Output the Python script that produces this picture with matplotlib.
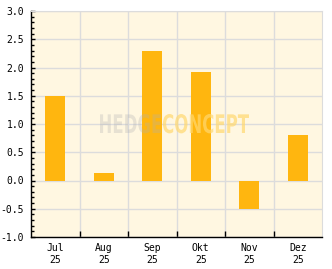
import numpy as np
import matplotlib.pyplot as plt
from matplotlib.ticker import MultipleLocator, FixedLocator
from matplotlib.textpath import TextPath
from matplotlib.patches import PathPatch
from matplotlib.font_manager import FontProperties
from matplotlib.transforms import Affine2D

months = ['Jul', 'Aug', 'Sep', 'Okt', 'Nov', 'Dez']
years = ['25', '25', '25', '25', '25', '25']
values = [1.5, 0.14, 2.3, 1.92, -0.5, 0.81]

bg = '#FFF7E1'
bar_color = '#FFB60F'
grid_color = '#DCDCDC'
mono = 'DejaVu Sans Mono'

W, H = 332, 269
fig = plt.figure(figsize=(W / 100, H / 100), dpi=100)
ax = fig.add_axes([31 / W, 32 / H, 291 / W, 226 / H])
ax.set_facecolor(bg)

x = np.arange(len(months))
ax.bar(x, values, width=0.41, color=bar_color, zorder=2)

ax.set_xlim(-0.5, len(months) - 0.5)
ax.set_ylim(-1.0, 3.0)

ax.set_xticks(x)
ax.set_xticklabels([m + '\n' + y for m, y in zip(months, years)],
                   fontfamily=mono, fontsize=7, linespacing=1.35)
ax.xaxis.set_minor_locator(FixedLocator(np.arange(0.5, len(months) - 0.5, 1)))
ax.tick_params(axis='x', which='major', length=0, pad=4)
ax.tick_params(axis='x', which='minor', length=4, width=1, direction='in', color='black')

ax.yaxis.set_major_locator(MultipleLocator(0.5))
ax.yaxis.set_minor_locator(MultipleLocator(0.1))
ax.set_yticks(np.arange(-1.0, 3.01, 0.5))
ax.set_yticklabels([f'{v:.1f}' for v in np.arange(-1.0, 3.01, 0.5)],
                   fontfamily=mono, fontsize=7)
ax.tick_params(axis='y', which='major', length=3.2, width=1, direction='in', pad=5)
ax.tick_params(axis='y', which='minor', length=2, width=1, direction='in')

ax.grid(True, axis='y', which='major', color=grid_color, lw=1, zorder=1)
ax.grid(True, axis='x', which='minor', color=grid_color, lw=1, zorder=1)
ax.set_axisbelow(True)

for s in ['top', 'right']:
    ax.spines[s].set_color(grid_color)
for s in ['left', 'bottom']:
    ax.spines[s].set_color('black')
    ax.spines[s].set_linewidth(1)

# watermark, stretched to fit its box (pixels, origin bottom-left)
fp = FontProperties(family='DejaVu Sans', weight='bold')
p1 = TextPath((0, 0), 'HEDGE', size=10, prop=fp)
e1 = p1.get_extents()
p2 = TextPath((e1.x1 + 0.6, 0), 'CONCEPT', size=10, prop=fp)
e2 = p2.get_extents()
x0, y0, ww, hh = 100, 136, 149, 19
sx = ww / (e2.x1 - e1.x0)
sy = hh / max(e1.y1, e2.y1)
tr = Affine2D().translate(-e1.x0, 0).scale(sx / W, sy / H).translate(x0 / W, y0 / H) + fig.transFigure
fig.add_artist(PathPatch(p1, transform=tr, facecolor='#B0B0B0', edgecolor='none', alpha=0.3, zorder=5))
fig.add_artist(PathPatch(p2, transform=tr, facecolor='#FFD870', edgecolor='none', alpha=0.7, zorder=5))

fig.savefig('out.png', dpi=100)
